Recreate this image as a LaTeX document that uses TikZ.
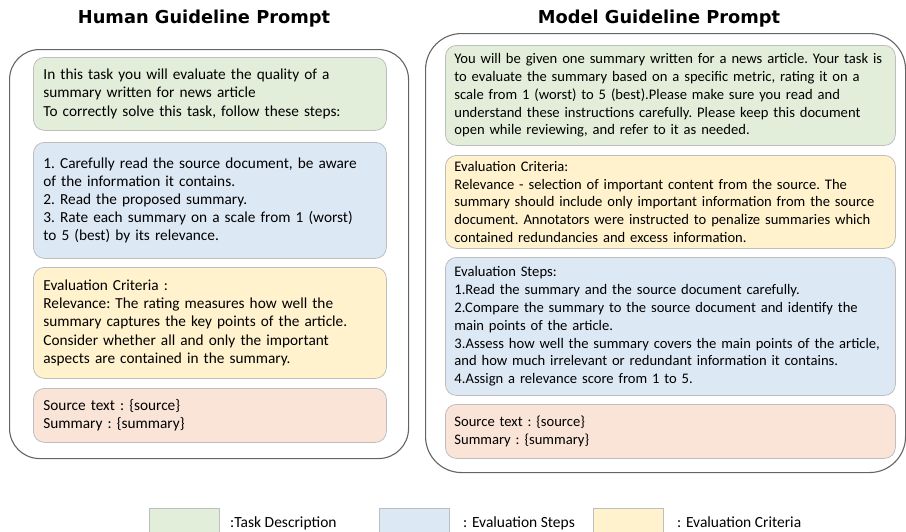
\documentclass[tikz,border=0pt]{standalone}
\usepackage{fontspec}
\setmainfont{Carlito}
\newfontfamily\headfont{DejaVu Sans}
\usepackage{tikz}
\usetikzlibrary{positioning}
\definecolor{taskgreen}{RGB}{226,238,218}
\definecolor{stepblue}{RGB}{221,232,245}
\definecolor{crityellow}{RGB}{255,242,205}
\definecolor{srcpink}{RGB}{250,228,215}
\definecolor{boxline}{RGB}{190,190,190}
\definecolor{outerline}{RGB}{100,100,100}
\newcommand{\txt}{\fontsize{15.3}{18.2}\selectfont\frenchspacing\hyphenpenalty=10000}
\newcommand{\txtm}{\fontsize{14.6}{17.8}\selectfont\frenchspacing\hyphenpenalty=10000}

\begin{document}
\begin{tikzpicture}[x=1pt,y=-1pt,
  outerbox/.style={draw=outerline,line width=1.1pt,rounded corners=30pt,anchor=north west,inner sep=0pt},
  prompt/.style={draw=boxline,line width=.8pt,rounded corners=11pt,anchor=north west,
    align=left,inner xsep=10pt,inner ysep=0pt,font=\txt,text width=333pt},
  mprompt/.style={prompt,inner xsep=9pt,font=\txtm,text width=432pt},
  legbox/.style={draw=boxline,line width=.8pt,anchor=north west,minimum width=70pt,minimum height=30pt},
  legtext/.style={anchor=base west,font=\fontsize{15.5}{18}\selectfont,inner sep=0pt},
  title/.style={font=\headfont\fontsize{17.8}{21}\selectfont\bfseries}]
\useasboundingbox (0,0) rectangle (906,531);
\node[title] (htitle) at (204,19) {Human Guideline Prompt};
\node[title] (mtitle) at (659,19) {Model Guideline Prompt};
%human prompt
\node[outerbox,minimum width=399pt,minimum height=409pt] (hbox) at (9,49) {};
\node[prompt,fill=taskgreen,minimum height=73pt] (hgreen) at (33,57)
  {In this task you will evaluate the quality of a\\summary written for news article\\To correctly solve this task, follow these steps:};
\node[prompt,fill=stepblue,minimum height=116pt] (hblue) at (33,142)
  {1. Carefully read the source document, be aware\\of the information it contains.\\2. Read the proposed summary.\\3. Rate each summary on a scale from 1 (worst)\\to 5 (best) by its relevance.};
\node[prompt,fill=crityellow,minimum height=111pt] (hyellow) at (33,267)
  {Evaluation Criteria :\\Relevance: The rating measures how well the\\summary captures the key points of the article.\\Consider whether all and only the important\\aspects are contained in the summary.};
\node[prompt,fill=srcpink,minimum height=54pt] (hpink) at (33,388)
  {Source text : \{source\}\\Summary : \{summary\}};
%model prompt
\node[outerbox,rounded corners=36pt,minimum width=480pt,minimum height=439pt] (mbox) at (425,33) {};
\node[mprompt,fill=taskgreen,minimum height=100pt] (mgreen) at (445,45)
  {You will be given one summary written for a news article. Your task is\\to evaluate the summary based on a specific metric, rating it on a\\scale from 1 (worst) to 5 (best).Please make sure you read and\\understand these instructions carefully. Please keep this document\\open while reviewing, and refer to it as needed.};
\node[mprompt,fill=crityellow,minimum height=93pt] (myellow) at (445,155)
  {Evaluation Criteria:\\Relevance - selection of important content from the source. The\\summary should include only important information from the source\\document. Annotators were instructed to penalize summaries which\\contained redundancies and excess information.};
\node[mprompt,fill=stepblue,minimum height=138pt] (mblue) at (445,257)
  {Evaluation Steps:\\1.Read the summary and the source document carefully.\\2.Compare the summary to the source document and identify the\\main points of the article.\\3.Assess how well the summary covers the main points of the article,\\and how much irrelevant or redundant information it contains.\\4.Assign a relevance score from 1 to 5.};
\node[mprompt,fill=srcpink,minimum height=54pt] (mpink) at (445,404)
  {Source text : \{source\}\\Summary : \{summary\}};
%legend
\node[legbox,fill=taskgreen] (lgreen) at (149,508) {};
\node[legbox,fill=stepblue] (lblue) at (379,508) {};
\node[legbox,fill=crityellow] (lyellow) at (593,508) {};
\node[legtext] (tgreen) at (230,527) {:Task Description};
\node[legtext] (tblue) at (463,527) {: Evaluation Steps};
\node[legtext] (tyellow) at (677,527) {: Evaluation Criteria};
\end{tikzpicture}
\end{document}
